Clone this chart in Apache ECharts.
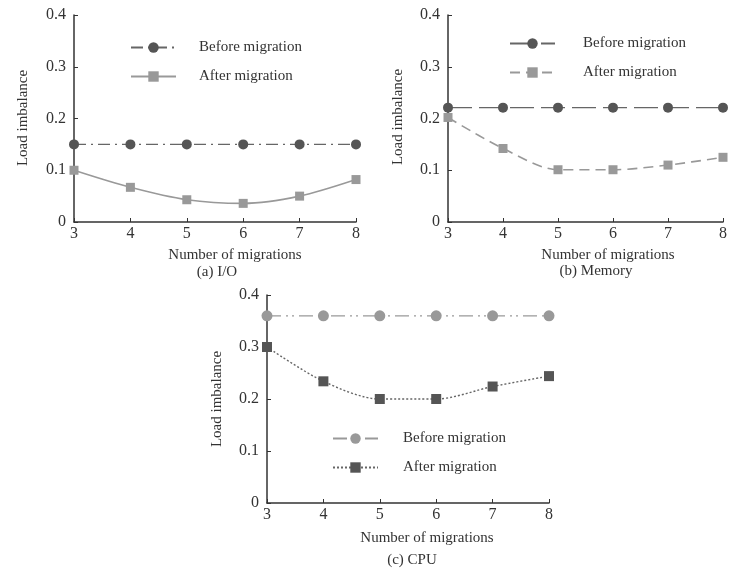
<!DOCTYPE html>
<html>
<head>
<meta charset="utf-8">
<script src="https://cdn.jsdelivr.net/npm/echarts@6/dist/echarts.min.js"></script>
<style>
html,body{margin:0;padding:0;background:#fff;}
#chart{width:730px;height:571px;}
</style>
</head>
<body>
<div id="chart"></div>
<script>
// ---- data ----
const categories = ['3', '4', '5', '6', '7', '8'];
const yTicks = [0, 0.1, 0.2, 0.3, 0.4];
const ioBefore = [0.15, 0.15, 0.15, 0.15, 0.15, 0.15];
const ioAfter = [0.100, 0.067, 0.043, 0.036, 0.050, 0.082];
const memBefore = [0.221, 0.221, 0.221, 0.221, 0.221, 0.221];
const memAfter = [0.202, 0.142, 0.101, 0.101, 0.110, 0.125];
const cpuBefore = [0.36, 0.36, 0.36, 0.36, 0.36, 0.36];
const cpuAfter = [0.300, 0.234, 0.200, 0.200, 0.224, 0.244];
const seriesNames = ['Before migration', 'After migration'];
const panelCaptions = ['(a) I/O', '(b) Memory', '(c) CPU'];
const xAxisName = 'Number of migrations';
const yAxisName = 'Load imbalance';

const FONT = '"Liberation Serif", "DejaVu Serif", serif';
const TXT = '#333';

const grids = [
  {left: 74, top: 15, width: 282, height: 207},
  {left: 448, top: 15, width: 282, height: 207},
  {left: 267, top: 295, width: 282, height: 208}
];

function xAx(i) {
  return {
    type: 'category', gridIndex: i, data: categories, boundaryGap: false,
    axisLine: {lineStyle: {color: '#333', width: 1.5}},
    axisTick: {inside: true, length: 4, lineStyle: {color: '#333'}},
    axisLabel: {color: TXT, fontFamily: FONT, fontSize: 16, margin: 4},
    splitLine: {show: false}
  };
}
function yAx(i) {
  return {
    type: 'value', gridIndex: i, min: yTicks[0], max: yTicks[yTicks.length - 1], interval: 0.1,
    axisLine: {show: true, lineStyle: {color: '#333', width: 1.5}},
    axisTick: {show: true, inside: true, length: 4, lineStyle: {color: '#333'}},
    axisLabel: {color: TXT, fontFamily: FONT, fontSize: 16, margin: 8,
      formatter: v => v === 0 ? '0' : v.toFixed(1)},
    splitLine: {show: false}
  };
}

function mk(panel, idx, data, o) {
  return {
    name: panel + ':' + seriesNames[idx],
    type: 'line', xAxisIndex: o.ax, yAxisIndex: o.ax, data: data,
    symbol: o.symbol, symbolSize: o.size,
    smooth: o.smooth || false,
    itemStyle: {color: o.mcolor},
    lineStyle: {color: o.lcolor, width: o.width || 1.3, type: o.dash},
    z: o.z || 2
  };
}

const series = [
  mk('a', 0, ioBefore, {ax: 0, symbol: 'circle', size: 10, mcolor: '#555', lcolor: '#666', dash: [12, 5, 2, 5]}),
  mk('a', 1, ioAfter, {ax: 0, symbol: 'rect', size: 9, mcolor: '#999', lcolor: '#999', dash: 'solid', width: 1.6, smooth: 0.3}),
  mk('b', 0, memBefore, {ax: 1, symbol: 'circle', size: 10, mcolor: '#555', lcolor: '#666', dash: [24, 7]}),
  mk('b', 1, memAfter, {ax: 1, symbol: 'rect', size: 9, mcolor: '#999', lcolor: '#999', dash: [10, 6], width: 1.6, smooth: 0.3}),
  mk('c', 0, cpuBefore, {ax: 2, symbol: 'circle', size: 11, mcolor: '#999', lcolor: '#999', dash: [14, 5, 2, 4, 2, 5]}),
  mk('c', 1, cpuAfter, {ax: 2, symbol: 'rect', size: 10, mcolor: '#555', lcolor: '#666', dash: [2, 2], width: 1.4, smooth: 0.3})
];

function leg(panel, left, top, gap) {
  return {
    orient: 'vertical', left: left, top: top, itemWidth: 45, itemHeight: 13, itemGap: 14,
    data: seriesNames.map(n => panel + ':' + n),
    formatter: n => n.split(':')[1],
    textStyle: {color: TXT, fontFamily: FONT, fontSize: 15, padding: [0, 0, 0, gap]},
    selectedMode: false
  };
}

const legends = [leg('a', 125, 35, 18), leg('b', 504, 31, 23), leg('c', 327, 426, 20)];

function txt(x, y, s, rot) {
  return {
    type: 'text', x: x, y: y, rotation: rot || 0,
    style: {text: s, fill: TXT, font: '15px ' + FONT, textAlign: 'center', textVerticalAlign: 'middle'}
  };
}

const graphics = [
  txt(235, 255, xAxisName), txt(217, 272, panelCaptions[0]), txt(23, 118, yAxisName, Math.PI / 2),
  txt(608, 255, xAxisName), txt(596, 271, panelCaptions[1]), txt(398, 117, yAxisName, Math.PI / 2),
  txt(427, 538, xAxisName), txt(412, 560, panelCaptions[2]), txt(217, 399, yAxisName, Math.PI / 2)
];

const chart = echarts.init(document.getElementById('chart'), null, {renderer: 'canvas'});
chart.setOption({
  backgroundColor: '#fff',
  animation: false,
  grid: grids,
  xAxis: [xAx(0), xAx(1), xAx(2)],
  yAxis: [yAx(0), yAx(1), yAx(2)],
  legend: legends,
  series: series,
  graphic: graphics
});
</script>
</body>
</html>
